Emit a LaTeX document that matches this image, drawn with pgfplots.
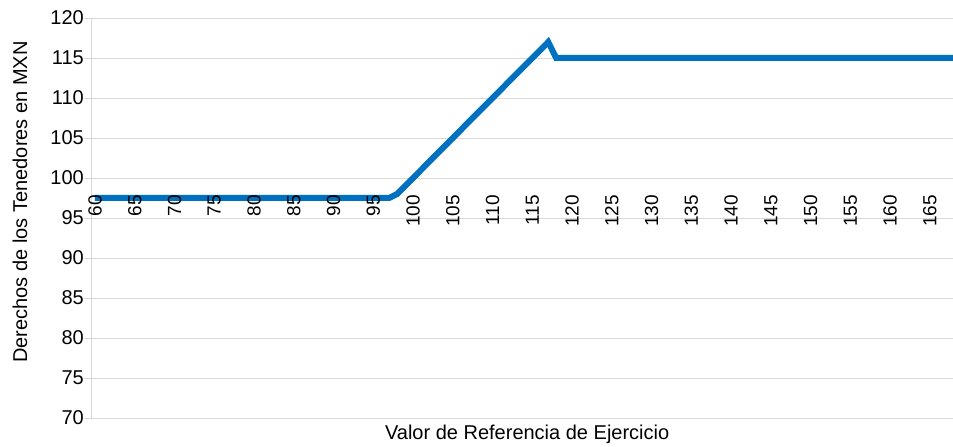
\documentclass[border=0pt]{standalone}
\usepackage{fontspec}
\setmainfont{Liberation Sans}
\usepackage{pgfplots}
\pgfplotsset{compat=1.18}
\definecolor{lineblue}{RGB}{0,112,192}
\definecolor{gridgray}{RGB}{217,217,217}
\pgfplotsset{
  layers/mylayers/.define layer set={
    axis background,axis grid,axis ticks,axis lines,pre main,main,axis tick labels,axis descriptions,axis foreground
  }{/pgfplots/layers/standard},
}
\begin{document}
\begin{tikzpicture}
\begin{axis}[
  set layers=mylayers,
  scale only axis, width=862pt, height=400pt,
  xmin=59.5, xmax=167.9, ymin=70, ymax=120,
  ytick={70,75,...,120},
  xtick={60,65,...,165},
  axis lines*=left,
  axis line style={gridgray, line width=0.75pt},
  ymajorgrids,
  grid style={gridgray, line width=0.75pt},
  xtick style={draw=none},
  ytick style={draw=gridgray, line width=0.75pt},
  tick align=outside,
  major tick length=7pt,
  /pgf/number format/assume math mode=true,
  yticklabel style={font=\fontsize{20}{24}\selectfont, inner sep=0pt, anchor=east},
  xticklabel style={font=\fontsize{19}{23}\selectfont, inner sep=0pt, rotate=90, anchor=east},
  xticklabel shift=-230pt,
  ylabel={Derechos de los Tenedores en MXN},
  ylabel style={font=\fontsize{20}{24}\selectfont, at={(axis description cs:-0.0824,0.54)}, anchor=center},
  xlabel={Valor de Referencia de Ejercicio},
  xlabel style={font=\fontsize{20}{24}\selectfont, at={(axis description cs:0.506,-0.04)}, anchor=center},
  clip=true,
]
\addplot[lineblue, line width=6pt, mark=none] coordinates {
  (60,97.5) (97,97.5) (98,98) (117,117) (118,115) (169,115)
};
\end{axis}
\pgfresetboundingbox
\path ([shift={(-91pt,-29pt)}]current axis.south west) rectangle ([shift={(0pt,18pt)}]current axis.north east);
\end{tikzpicture}
\end{document}
